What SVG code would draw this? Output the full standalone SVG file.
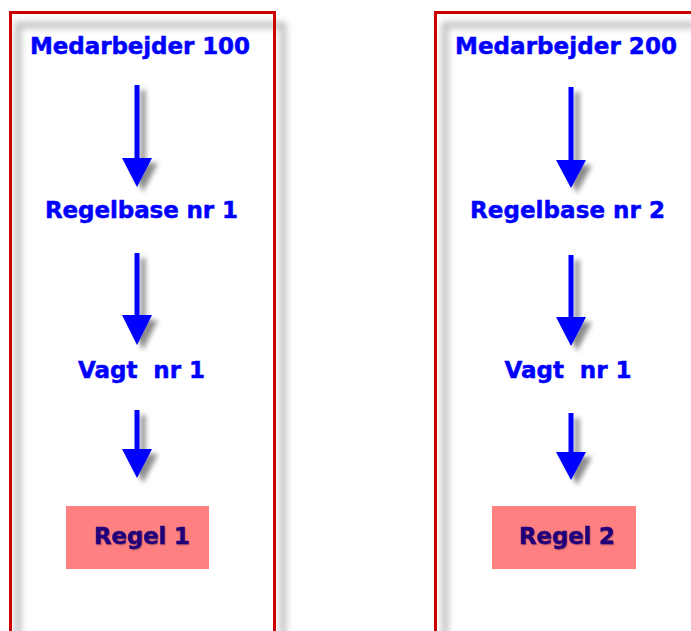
<svg xmlns="http://www.w3.org/2000/svg" width="691" height="631" viewBox="0 0 691 631">
<defs>
<filter id="sh" x="-50%" y="-20%" width="200%" height="140%">
<feDropShadow dx="6" dy="5" stdDeviation="2.5" flood-color="#000" flood-opacity="0.45"/>
</filter>
<filter id="blur" x="-10%" y="-10%" width="120%" height="120%">
<feGaussianBlur stdDeviation="3"/>
</filter>
<filter id="tsh" x="-10%" y="-30%" width="120%" height="160%">
<feDropShadow dx="0.8" dy="1.2" stdDeviation="0.6" flood-color="#000" flood-opacity="0.25"/>
</filter>
</defs>
<style>
.frame{fill:none;stroke:#cc0000;stroke-width:3}
.glow{fill:none;stroke:#c4c4c4;stroke-width:7;filter:url(#blur)}
.lbl{font-family:"DejaVu Sans",Verdana,sans-serif;font-weight:bold;font-size:23px;fill:#0000ff;stroke:#0000ff;stroke-width:0.5;text-anchor:middle}
.rule{fill:#ff8080}
.rtxt{font-family:"DejaVu Sans",Verdana,sans-serif;font-weight:bold;font-size:23px;fill:#22007a;stroke:#22007a;stroke-width:0.5;text-anchor:middle;filter:url(#tsh)}
.arr{fill:#0000ff;filter:url(#sh)}
</style>
<rect width="691" height="631" fill="#ffffff"/>
<g id="panel-left">
<rect class="glow" x="18" y="25" width="265" height="640"/>
<rect class="frame" x="10.5" y="12.5" width="264" height="640"/>
</g>
<g id="panel-right">
<rect class="glow" x="445" y="25" width="300" height="640"/>
<rect class="frame" x="435.5" y="12.5" width="300" height="640"/>
</g>
<g id="medarbejder-100"><text class="lbl" x="140" y="54" textLength="220">Medarbejder 100</text></g>
<g id="regelbase-1"><text class="lbl" x="141.5" y="218" textLength="193">Regelbase nr 1</text></g>
<g id="vagt-1-left"><text class="lbl" x="141.5" y="378" textLength="127" xml:space="preserve">Vagt  nr 1</text></g>
<g id="regel-1"><rect class="rule" x="66" y="506" width="143" height="63"/><text class="rtxt" x="142" y="544" textLength="96">Regel 1</text></g>
<g id="medarbejder-200"><text class="lbl" x="566" y="54" textLength="222">Medarbejder 200</text></g>
<g id="regelbase-2"><text class="lbl" x="567.5" y="218" textLength="195">Regelbase nr 2</text></g>
<g id="vagt-1-right"><text class="lbl" x="568" y="378" textLength="127" xml:space="preserve">Vagt  nr 1</text></g>
<g id="regel-2"><rect class="rule" x="492" y="506" width="144" height="63"/><text class="rtxt" x="567" y="544" textLength="96">Regel 2</text></g>
<g id="connectors">
<path class="arr" d="M134.5 85 H139.5 V158 H152 L137 187 L122 158 H134.5 Z"/>
<path class="arr" d="M134.5 253 H139.5 V315 H152 L137 345 L122 315 H134.5 Z"/>
<path class="arr" d="M134.5 410 H139.5 V449 H152 L137 478 L122 449 H134.5 Z"/>
<path class="arr" d="M568.5 87 H573.5 V160 H586 L571 188 L556 160 H568.5 Z"/>
<path class="arr" d="M568.5 255 H573.5 V317 H586 L571 346 L556 317 H568.5 Z"/>
<path class="arr" d="M568.5 413 H573.5 V452 H586 L571 480 L556 452 H568.5 Z"/>
</g>
</svg>
